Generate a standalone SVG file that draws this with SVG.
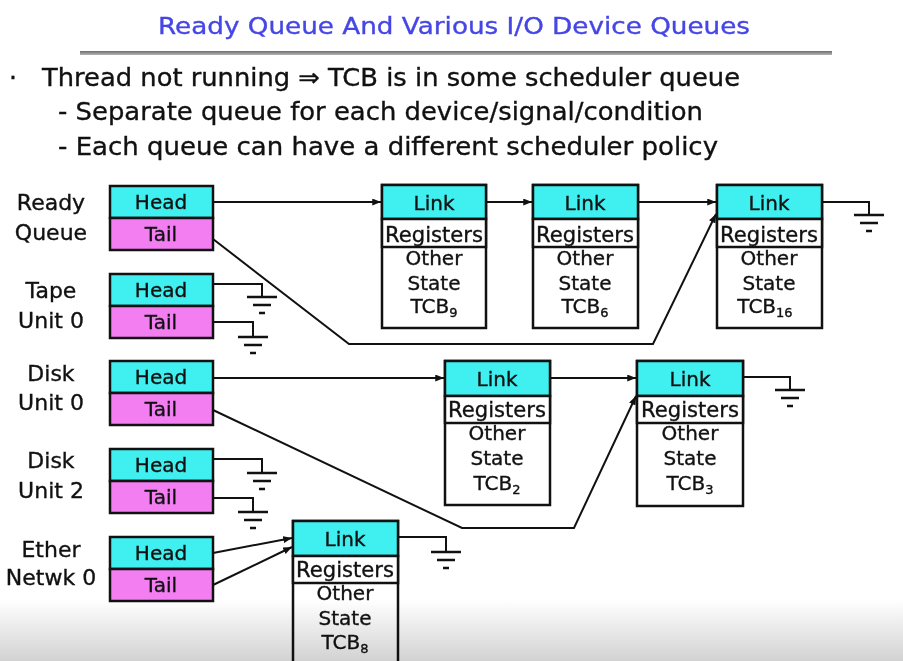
<svg xmlns="http://www.w3.org/2000/svg" width="903" height="661" viewBox="0 0 903 661">
  <defs>
    <style>
      text { font-family: "DejaVu Sans", "Liberation Sans", sans-serif; fill: #111; stroke: #111; stroke-width: 0.35; }
      .title { font-size: 23px; fill: #4646e6; stroke: #4646e6; }
      .bul { font-size: 25px; }
      .lbl { font-size: 22px; text-anchor: middle; }
      .cell { font-size: 20px; text-anchor: middle; }
      .sub { font-size: 13px; }
      .hd { fill: #40f0f0; stroke: #111; stroke-width: 2.5; }
      .tl { fill: #f27ef2; stroke: #111; stroke-width: 2.5; }
      .bx { fill: #fff; stroke: #111; stroke-width: 2.5; }
      .wire { fill: none; stroke: #111; stroke-width: 2; }
      .arw { marker-end: url(#tip); }
      .gnd { fill: none; stroke: #111; stroke-width: 2.5; }
    </style>
    <marker id="tip" viewBox="0 0 10 8" refX="10" refY="4" markerWidth="9" markerHeight="7" markerUnits="userSpaceOnUse" orient="auto">
      <path d="M0 0 L10 4 L0 8 Z" fill="#111"/>
    </marker>
    <!-- earth symbol: three shrinking bars, origin at top bar centre -->
    <g id="ground">
      <path class="gnd" d="M-15 0 H15 M-9 8 H9 M-3 16 H3"/>
    </g>
    <linearGradient id="fade" x1="0" y1="0" x2="0" y2="1">
      <stop offset="0" stop-color="#ffffff"/>
      <stop offset="1" stop-color="#d2d2d2"/>
    </linearGradient>
    <linearGradient id="rule" x1="0" y1="0" x2="0" y2="1">
      <stop offset="0" stop-color="#6e6e6e"/>
      <stop offset="1" stop-color="#b4b4b4"/>
    </linearGradient>
  </defs>

  <rect width="903" height="661" fill="#fff"/>

  <!-- heading and bullet list -->
  <g id="heading">
    <text class="title" x="158" y="34" textLength="592" lengthAdjust="spacingAndGlyphs">Ready Queue And Various I/O Device Queues</text>
    <rect x="80" y="51" width="752" height="4" fill="url(#rule)"/>
    <text class="bul" x="9" y="86">·</text>
    <text class="bul" x="42" y="86" textLength="698" lengthAdjust="spacingAndGlyphs">Thread not running ⇒ TCB is in some scheduler queue</text>
    <text class="bul" x="58" y="120" textLength="645" lengthAdjust="spacingAndGlyphs">- Separate queue for each device/signal/condition</text>
    <text class="bul" x="58" y="155" textLength="660" lengthAdjust="spacingAndGlyphs">- Each queue can have a different scheduler policy</text>
  </g>

  <!-- queue headers -->
  <g id="q-ready">
    <text class="lbl" x="51" y="210">Ready</text>
    <text class="lbl" x="51" y="240">Queue</text>
    <rect class="hd" x="110" y="186" width="103" height="32"/>
    <rect class="tl" x="110" y="218" width="103" height="32"/>
    <text class="cell" x="161" y="209">Head</text>
    <text class="cell" x="161" y="241">Tail</text>
  </g>
  <g id="q-tape0">
    <text class="lbl" x="51" y="298">Tape</text>
    <text class="lbl" x="51" y="328">Unit 0</text>
    <rect class="hd" x="110" y="274" width="103" height="32"/>
    <rect class="tl" x="110" y="306" width="103" height="32"/>
    <text class="cell" x="161" y="297">Head</text>
    <text class="cell" x="161" y="329">Tail</text>
  </g>
  <g id="q-disk0">
    <text class="lbl" x="51" y="381">Disk</text>
    <text class="lbl" x="51" y="410">Unit 0</text>
    <rect class="hd" x="110" y="361" width="103" height="32"/>
    <rect class="tl" x="110" y="393" width="103" height="32"/>
    <text class="cell" x="161" y="384">Head</text>
    <text class="cell" x="161" y="416">Tail</text>
  </g>
  <g id="q-disk2">
    <text class="lbl" x="51" y="468">Disk</text>
    <text class="lbl" x="51" y="498">Unit 2</text>
    <rect class="hd" x="110" y="449" width="103" height="32"/>
    <rect class="tl" x="110" y="481" width="103" height="32"/>
    <text class="cell" x="161" y="472">Head</text>
    <text class="cell" x="161" y="504">Tail</text>
  </g>
  <g id="q-ether0">
    <text class="lbl" x="51" y="557">Ether</text>
    <text class="lbl" x="51" y="585">Netwk 0</text>
    <rect class="hd" x="110" y="537" width="103" height="32"/>
    <rect class="tl" x="110" y="569" width="103" height="32"/>
    <text class="cell" x="161" y="560">Head</text>
    <text class="cell" x="161" y="592">Tail</text>
  </g>

  <!-- thread control blocks -->
  <g id="tcb9">
    <rect class="bx" x="382" y="185" width="104" height="143"/>
    <rect class="hd" x="382" y="185" width="104" height="34"/>
    <rect class="bx" x="382" y="219" width="104" height="28"/>
    <text class="cell" x="434" y="210">Link</text>
    <text class="cell" x="434" y="242" style="font-size:21px" textLength="98" lengthAdjust="spacingAndGlyphs">Registers</text>
    <text class="cell" x="434" y="265">Other</text>
    <text class="cell" x="434" y="290">State</text>
    <text class="cell" x="434" y="313">TCB<tspan class="sub" dy="4">9</tspan></text>
  </g>
  <g id="tcb6">
    <rect class="bx" x="533" y="185" width="105" height="143"/>
    <rect class="hd" x="533" y="185" width="105" height="34"/>
    <rect class="bx" x="533" y="219" width="105" height="28"/>
    <text class="cell" x="585" y="210">Link</text>
    <text class="cell" x="585" y="242" style="font-size:21px" textLength="98" lengthAdjust="spacingAndGlyphs">Registers</text>
    <text class="cell" x="585" y="265">Other</text>
    <text class="cell" x="585" y="290">State</text>
    <text class="cell" x="585" y="313">TCB<tspan class="sub" dy="4">6</tspan></text>
  </g>
  <g id="tcb16">
    <rect class="bx" x="717" y="185" width="105" height="143"/>
    <rect class="hd" x="717" y="185" width="105" height="34"/>
    <rect class="bx" x="717" y="219" width="105" height="28"/>
    <text class="cell" x="769" y="210">Link</text>
    <text class="cell" x="769" y="242" style="font-size:21px" textLength="98" lengthAdjust="spacingAndGlyphs">Registers</text>
    <text class="cell" x="769" y="265">Other</text>
    <text class="cell" x="769" y="290">State</text>
    <text class="cell" x="765" y="313">TCB<tspan class="sub" dy="4">16</tspan></text>
  </g>
  <g id="tcb2">
    <rect class="bx" x="445" y="361" width="105" height="144"/>
    <rect class="hd" x="445" y="361" width="105" height="35"/>
    <rect class="bx" x="445" y="396" width="105" height="27"/>
    <text class="cell" x="497" y="386">Link</text>
    <text class="cell" x="497" y="417" style="font-size:21px" textLength="98" lengthAdjust="spacingAndGlyphs">Registers</text>
    <text class="cell" x="497" y="440">Other</text>
    <text class="cell" x="497" y="465">State</text>
    <text class="cell" x="497" y="490">TCB<tspan class="sub" dy="4">2</tspan></text>
  </g>
  <g id="tcb3">
    <rect class="bx" x="637" y="361" width="106" height="145"/>
    <rect class="hd" x="637" y="361" width="106" height="35"/>
    <rect class="bx" x="637" y="396" width="106" height="27"/>
    <text class="cell" x="690" y="386">Link</text>
    <text class="cell" x="690" y="417" style="font-size:21px" textLength="98" lengthAdjust="spacingAndGlyphs">Registers</text>
    <text class="cell" x="690" y="440">Other</text>
    <text class="cell" x="690" y="465">State</text>
    <text class="cell" x="690" y="490">TCB<tspan class="sub" dy="4">3</tspan></text>
  </g>
  <g id="tcb8">
    <rect class="bx" x="293" y="521" width="105" height="160"/>
    <rect class="hd" x="293" y="521" width="105" height="35"/>
    <rect class="bx" x="293" y="556" width="105" height="27"/>
    <text class="cell" x="345" y="546">Link</text>
    <text class="cell" x="345" y="577" style="font-size:21px" textLength="98" lengthAdjust="spacingAndGlyphs">Registers</text>
    <text class="cell" x="345" y="600">Other</text>
    <text class="cell" x="345" y="625">State</text>
    <text class="cell" x="345" y="649">TCB<tspan class="sub" dy="4">8</tspan></text>
  </g>

  <!-- pointers between headers and blocks -->
  <g id="connectors">
    <path class="wire arw" d="M213 202 H381"/>
    <path class="wire arw" d="M486 202 H532"/>
    <path class="wire arw" d="M638 202 H716"/>
    <path class="wire arw" d="M213 239 L349 344 H653 L716 214"/>
    <path class="wire arw" d="M213 378 H444"/>
    <path class="wire arw" d="M550 378 H636"/>
    <path class="wire arw" d="M213 410 L462 528 H574 L636 396"/>
    <path class="wire arw" d="M213 553 L292 538"/>
    <path class="wire arw" d="M213 585 L292 547"/>

    <!-- null pointers -->
    <path class="wire" d="M822 202 H869 V215"/>
    <use href="#ground" x="869" y="215"/>
    <path class="wire" d="M743 377 H790 V390"/>
    <use href="#ground" x="790" y="390"/>
    <path class="wire" d="M398 537 H446 V552"/>
    <use href="#ground" x="446" y="552"/>
    <path class="wire" d="M213 284 H262 V297"/>
    <use href="#ground" x="262" y="297"/>
    <path class="wire" d="M213 322 H253 V337"/>
    <use href="#ground" x="253" y="337"/>
    <path class="wire" d="M213 459 H262 V473"/>
    <use href="#ground" x="262" y="473"/>
    <path class="wire" d="M213 498 H253 V512"/>
    <use href="#ground" x="253" y="512"/>
  </g>

  <!-- grey fade along the lower edge, multiplied so dark strokes stay dark -->
  <rect x="0" y="600" width="903" height="61" fill="url(#fade)" style="mix-blend-mode:multiply"/>
</svg>
